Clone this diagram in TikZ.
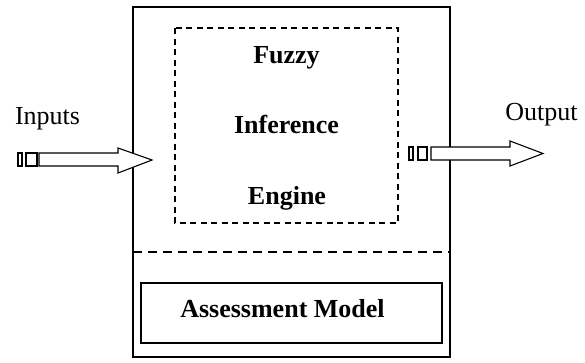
\documentclass[tikz,border=0pt]{standalone}
\usepackage{fontspec}
\setmainfont{Liberation Serif}
\begin{document}
\begin{tikzpicture}[x=1pt,y=-1pt,
  txt/.style={font=\fontsize{26}{30}\selectfont, inner sep=0pt, anchor=base},
  btxt/.style={txt, font=\fontsize{26}{30}\selectfont\bfseries},
  solidbox/.style={draw, line width=1.4pt, fill=none},
  dashbox/.style={draw, line width=1.2pt, dash pattern=on 6pt off 4.5pt},
  longdash/.style={draw, line width=1.2pt, dash pattern=on 9pt off 6pt},
  blockarrow/.style={draw, line width=1.1pt, fill=white, line join=miter}]
\useasboundingbox (0,0) rectangle (585,362);

% system frame
\draw[solidbox] (133,7) coordinate (frameTL) rectangle (450,357) coordinate (frameBR);
% inference engine region
\draw[dashbox] (175,28) coordinate (engTL) rectangle (398,223) coordinate (engBR);
% separator between engine and model
\coordinate (sepL) at (133,252);
\coordinate (sepR) at (450,252);
\draw[longdash] (sepL) -- (sepR);
% assessment model
\node[solidbox, minimum width=301pt, minimum height=60pt, inner sep=0pt] (model) at (291.5,313) {};

\node[btxt] (fuzzy) at (286.5,63) {Fuzzy};
\node[btxt] (infer) at (286.5,133.5) {Inference};
\node[btxt] (engine) at (287,204) {Engine};
\node[btxt] (modeltxt) at (282.5,317) {Assessment Model};

\node[txt] (inputs) at (47.5,124) {Inputs};
\node[txt] (output) at (541.5,120) {Output};

% input arrow (striped tail)
\draw[blockarrow] (18,153) rectangle (22,166);
\draw[blockarrow] (26,153) rectangle (37,166);
\draw[blockarrow] (39,153) -- (118,153) -- (118,148) -- (152,160) -- (118,173)
  -- (118,166) -- (39,166) -- cycle;

% output arrow (striped tail)
\draw[blockarrow] (409,147) rectangle (413,160);
\draw[blockarrow] (418,147) rectangle (427,160);
\draw[blockarrow] (431,147) -- (510,147) -- (510,141) -- (543,153.5) -- (510,166)
  -- (510,160) -- (431,160) -- cycle;
\end{tikzpicture}
\end{document}
